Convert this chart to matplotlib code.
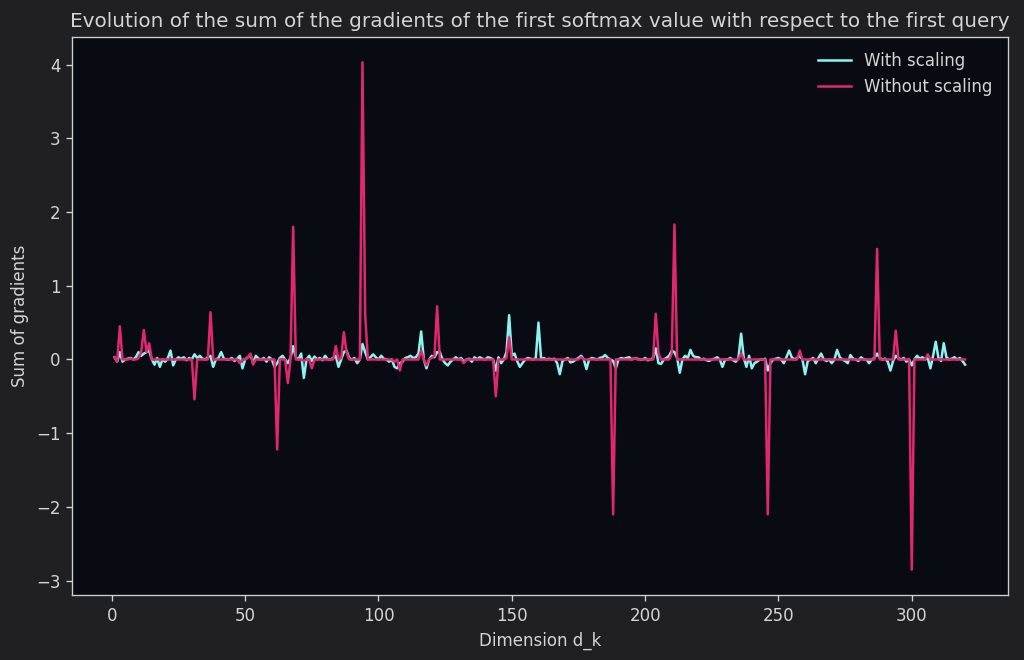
import matplotlib
matplotlib.use("Agg")
import matplotlib.pyplot as plt
import numpy as np

dims = list(range(1, 321))

with_scaling = [
    0.03, -0.03, 0.10, -0.03, 0.00, 0.01, 0.02, 0.00, 0.03, 0.10,
    0.05, 0.08, 0.10, 0.12, 0.00, -0.07, 0.02, -0.10, 0.00, -0.03,
    0.02, 0.12, -0.08, 0.00, 0.03, 0.01, 0.03, -0.01, 0.02, 0.00,
    0.07, 0.02, 0.05, 0.01, 0.00, 0.03, 0.05, -0.10, 0.00, 0.02,
    0.10, 0.01, 0.00, 0.00, 0.02, -0.02, 0.01, 0.05, -0.12, 0.00,
    0.03, 0.06, -0.05, 0.05, 0.01, 0.00, 0.02, -0.03, 0.03, 0.00,
    -0.10, -0.05, 0.02, 0.05, 0.00, -0.05, 0.02, 0.18, 0.03, 0.00,
    0.08, -0.25, 0.00, 0.05, -0.02, 0.04, 0.00, 0.02, -0.01, 0.05,
    0.00, 0.00, 0.02, 0.05, -0.10, 0.00, 0.10, 0.12, 0.02, 0.00,
    0.02, -0.05, 0.00, 0.21, 0.10, 0.00, 0.03, 0.07, 0.03, 0.00,
    0.05, 0.01, 0.00, -0.03, 0.00, -0.10, -0.12, -0.05, -0.03, 0.02,
    0.03, 0.05, 0.02, 0.03, 0.08, 0.38, 0.00, -0.12, 0.00, 0.05,
    0.03, 0.10, 0.10, 0.00, -0.05, -0.08, -0.03, 0.00, 0.03, 0.00,
    0.02, -0.03, 0.00, 0.01, -0.03, 0.03, 0.00, 0.03, 0.01, 0.00,
    0.03, 0.02, 0.00, -0.15, 0.03, -0.05, 0.00, 0.10, 0.60, 0.05,
    0.08, -0.02, -0.10, -0.05, 0.00, 0.02, 0.01, 0.00, 0.02, 0.50,
    0.00, 0.02, 0.00, 0.01, 0.00, 0.01, -0.05, -0.20, -0.02, 0.00,
    0.02, -0.04, -0.03, 0.00, 0.02, 0.05, 0.00, -0.13, 0.00, 0.02,
    0.01, 0.00, 0.02, 0.03, 0.06, 0.02, 0.00, -0.02, -0.12, 0.00,
    0.02, 0.01, 0.02, 0.03, 0.00, 0.02, 0.01, 0.00, 0.00, 0.02,
    -0.01, 0.00, 0.02, 0.15, -0.05, -0.06, 0.00, 0.02, 0.05, 0.12,
    0.10, 0.02, -0.18, 0.00, 0.05, 0.02, 0.13, 0.05, 0.03, 0.03,
    0.00, 0.01, -0.01, -0.02, 0.00, 0.01, 0.03, 0.00, -0.10, 0.00,
    0.00, 0.02, -0.01, -0.03, 0.02, 0.35, 0.02, -0.10, 0.05, -0.12,
    -0.05, -0.03, 0.00, 0.00, 0.01, -0.15, -0.05, 0.00, 0.01, 0.02,
    0.00, -0.05, 0.03, 0.12, 0.03, 0.00, 0.02, 0.05, 0.00, -0.20,
    -0.02, 0.00, 0.02, -0.05, 0.02, 0.08, 0.00, -0.02, 0.00, -0.05,
    0.00, 0.13, 0.03, 0.00, -0.02, -0.05, 0.06, 0.01, 0.00, -0.02,
    0.03, 0.00, 0.00, -0.05, 0.00, 0.02, 0.08, 0.02, 0.00, 0.01,
    -0.03, -0.15, -0.02, 0.05, 0.02, 0.00, 0.02, -0.03, 0.00, -0.08,
    0.00, 0.05, 0.01, 0.03, 0.00, 0.02, -0.12, 0.05, 0.24, 0.02,
    -0.02, 0.22, 0.03, 0.00, 0.01, 0.03, 0.00, 0.02, -0.02, -0.07,
]

without_scaling = [
    0.03, -0.03, 0.45, 0.00, 0.00, 0.00, 0.01, 0.00, 0.00, 0.02,
    0.10, 0.40, 0.10, 0.22, 0.00, 0.00, 0.00, 0.00, 0.00, 0.00,
    0.00, 0.00, 0.00, 0.00, 0.00, 0.00, 0.00, 0.00, 0.00, 0.00,
    -0.54, 0.00, 0.00, 0.00, 0.00, 0.00, 0.64, 0.00, 0.00, 0.00,
    0.00, 0.00, 0.00, 0.00, 0.00, 0.00, 0.00, -0.05, 0.00, 0.00,
    0.03, 0.08, -0.07, 0.00, 0.00, 0.00, 0.00, 0.00, 0.00, 0.00,
    0.00, -1.22, 0.00, 0.00, 0.00, -0.32, 0.00, 1.80, 0.00, 0.00,
    0.00, -0.02, 0.00, 0.00, -0.12, 0.00, 0.00, 0.00, 0.00, 0.00,
    0.00, 0.00, 0.00, 0.18, 0.00, 0.02, 0.37, 0.10, 0.00, 0.00,
    0.00, 0.00, 0.00, 4.03, 0.62, 0.00, 0.00, 0.00, 0.00, 0.00,
    0.00, 0.00, 0.00, 0.00, 0.00, -0.03, 0.00, -0.15, 0.00, 0.00,
    0.00, 0.00, 0.00, 0.00, 0.00, 0.12, 0.00, -0.08, 0.00, 0.02,
    0.05, 0.72, 0.00, 0.00, 0.00, 0.00, 0.00, 0.00, 0.00, 0.00,
    0.00, -0.05, 0.00, 0.00, 0.00, 0.00, 0.00, 0.00, 0.00, 0.00,
    0.00, 0.00, 0.00, -0.50, 0.00, 0.00, 0.00, 0.02, 0.30, 0.00,
    0.00, 0.00, 0.00, 0.00, 0.00, 0.00, 0.00, 0.00, 0.00, 0.00,
    0.00, 0.00, 0.00, 0.00, 0.00, 0.00, 0.00, 0.00, 0.00, 0.00,
    0.00, 0.00, 0.00, 0.00, 0.00, 0.03, 0.00, 0.00, 0.00, 0.00,
    0.00, 0.00, 0.00, 0.00, 0.00, 0.00, 0.00, -2.10, 0.00, 0.00,
    0.00, 0.00, 0.00, 0.00, 0.00, 0.02, 0.00, 0.00, 0.00, 0.00,
    0.00, 0.00, 0.00, 0.62, 0.08, 0.00, 0.00, 0.00, 0.00, 0.08,
    1.83, 0.00, 0.00, 0.00, 0.00, 0.00, 0.00, 0.00, 0.00, 0.00,
    0.00, 0.00, 0.00, 0.00, 0.00, 0.00, 0.00, 0.00, 0.00, 0.00,
    0.00, 0.00, 0.00, 0.00, 0.00, 0.08, 0.00, 0.00, 0.00, 0.00,
    0.00, 0.00, 0.00, 0.00, 0.00, -2.10, 0.00, 0.00, 0.00, 0.00,
    0.00, 0.00, 0.00, 0.00, 0.00, 0.00, 0.00, 0.12, 0.00, 0.00,
    0.00, 0.00, 0.00, 0.00, 0.00, 0.00, 0.00, 0.00, 0.00, 0.00,
    0.00, 0.00, 0.00, 0.00, 0.00, 0.00, 0.00, 0.00, 0.00, 0.00,
    0.00, 0.00, 0.00, 0.00, 0.00, 0.00, 1.50, 0.00, 0.00, 0.00,
    0.00, 0.00, 0.00, 0.39, 0.00, 0.00, 0.00, 0.00, 0.00, -2.85,
    0.00, 0.00, 0.00, 0.00, 0.00, 0.07, 0.00, 0.00, 0.00, 0.00,
    0.00, 0.00, 0.00, 0.00, 0.00, 0.00, 0.00, 0.00, 0.00, 0.00,
]

fig_bg = "#202024"
ax_bg = "#080b12"
txt = "#d4d4d4"
cyan = "#8cf3f3"
pink = "#e0286e"

fig = plt.figure(figsize=(10.24, 6.6), dpi=100, facecolor=fig_bg)
ax = fig.add_axes([0.0703, 0.0985, 0.9137, 0.8455], facecolor=ax_bg)

ax.plot(dims, with_scaling, color=cyan, lw=1.8, label="With scaling")
ax.plot(dims, without_scaling, color=pink, lw=1.8, label="Without scaling")

ax.set_title("Evolution of the sum of the gradients of the first softmax value with respect to the first query",
             color=txt, fontsize=14.4, pad=7)
ax.set_xlabel("Dimension d_k", color=txt, fontsize=12, labelpad=4.8)
ax.set_ylabel("Sum of gradients", color=txt, fontsize=12, labelpad=4.8)
ax.tick_params(colors=txt, labelsize=12, length=4.2, width=0.96, pad=4.2)
for s in ax.spines.values():
    s.set_color("#cfcfcf")
    s.set_linewidth(0.96)
leg = ax.legend(loc="upper right", frameon=False, fontsize=12)
for t in leg.get_texts():
    t.set_color(txt)

fig.savefig("out.png", dpi=100, facecolor=fig_bg)
